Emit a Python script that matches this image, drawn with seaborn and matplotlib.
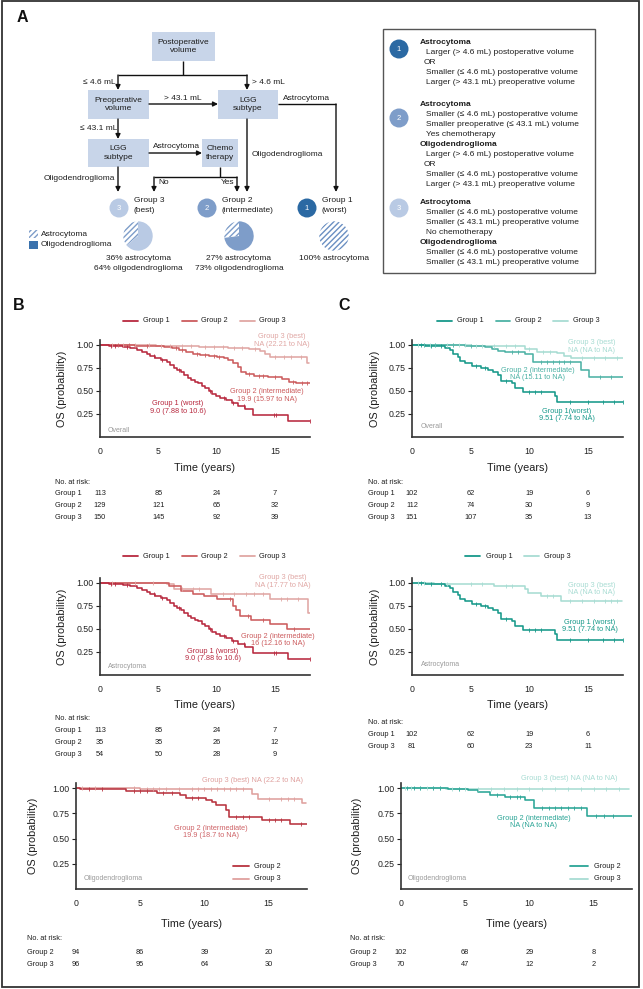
import numpy as np
import pandas as pd
import matplotlib
matplotlib.use("Agg")
import matplotlib.pyplot as plt
import matplotlib.transforms as mtrans
from matplotlib.patches import Rectangle, Circle
import seaborn as sns

# ======================= DATA =======================
# Panel A: composition of prognostic groups
pie_names = ['Group 3', 'Group 2', 'Group 1']
astro_pct = [36, 27, 100]
oligo_pct = [64, 73, 0]

# Kaplan-Meier step points (time in years, survival probability), censor times
# --- B overall ---
B_ov_g1_t = [0, 0.8, 1.5, 2.0, 2.6, 3.2, 3.6, 4.0, 4.3, 4.7, 5.2, 5.7, 6.0, 6.3, 6.6, 6.9, 7.2, 7.5, 7.8, 8.1, 8.4, 8.7, 9.0, 9.3, 9.6, 9.9, 10.3, 10.8, 11.3, 11.8, 12.4, 13.1, 16.1, 18.0]
B_ov_g1_s = [1.0, 0.99, 0.98, 0.97, 0.96, 0.94, 0.92, 0.90, 0.88, 0.85, 0.83, 0.81, 0.78, 0.75, 0.72, 0.70, 0.67, 0.64, 0.62, 0.60, 0.58, 0.55, 0.53, 0.50, 0.47, 0.44, 0.42, 0.40, 0.37, 0.34, 0.30, 0.24, 0.17, 0.17]
B_ov_g1_c = [0.9, 1.3, 2.3, 4.6, 5.3, 6.8, 9.4, 10.6, 11.4, 12.3, 14.9, 15.1, 18.0]
B_ov_g2_t = [0, 1.0, 3.0, 4.5, 5.5, 6.2, 6.8, 7.4, 8.0, 8.6, 9.3, 10.0, 10.6, 11.0, 11.4, 11.8, 12.1, 12.5, 13.2, 14.4, 15.6, 16.2, 16.8, 18.0]
B_ov_g2_s = [1.0, 0.995, 0.99, 0.98, 0.97, 0.96, 0.94, 0.92, 0.90, 0.89, 0.88, 0.87, 0.85, 0.83, 0.80, 0.76, 0.70, 0.68, 0.66, 0.65, 0.63, 0.60, 0.58, 0.58]
B_ov_g2_c = [1.5, 2.5, 4.0, 6.5, 7.0, 8.3, 9.0, 9.8, 10.2, 12.8, 13.6, 14.0, 15.0, 16.5, 17.3, 17.7]
B_ov_g3_t = [0, 1.5, 4.8, 6.5, 8.5, 11.0, 12.8, 13.7, 14.1, 14.6, 17.7, 17.9]
B_ov_g3_s = [1.0, 0.995, 0.99, 0.98, 0.97, 0.96, 0.95, 0.93, 0.90, 0.87, 0.80, 0.80]
B_ov_g3_c = [1.0, 2.0, 3.0, 4.2, 5.2, 6.0, 7.0, 7.8, 9.0, 9.8, 10.5, 11.5, 12.2, 13.3, 15.0, 15.8, 16.4, 17.2]
# --- C overall ---
C_ov_g1_t = [0, 1.1, 2.2, 2.8, 3.2, 3.5, 3.9, 4.1, 4.5, 5.1, 5.9, 6.5, 6.9, 7.3, 7.6, 8.5, 8.8, 9.5, 12.2, 12.4, 18.0]
C_ov_g1_s = [1.0, 0.99, 0.98, 0.96, 0.94, 0.90, 0.87, 0.82, 0.80, 0.77, 0.75, 0.72, 0.70, 0.67, 0.61, 0.58, 0.53, 0.49, 0.44, 0.38, 0.38]
C_ov_g1_c = [0.8, 1.6, 2.5, 5.5, 6.2, 8.0, 10.0, 10.5, 11.0, 13.5, 15.0, 16.3, 17.2, 18.0]
C_ov_g2_t = [0, 3.0, 4.5, 6.2, 6.8, 7.3, 7.9, 9.6, 10.3, 14.4, 15.1, 18.0]
C_ov_g2_s = [1.0, 0.995, 0.99, 0.97, 0.95, 0.93, 0.92, 0.90, 0.81, 0.73, 0.65, 0.65]
C_ov_g2_c = [1.0, 2.0, 3.5, 5.0, 8.5, 9.0, 11.0, 11.5, 12.0, 12.5, 13.0, 13.5, 16.0, 17.0]
C_ov_g3_t = [0, 2.5, 5.0, 7.5, 9.6, 10.7, 12.4, 13.0, 13.6, 18.0]
C_ov_g3_s = [1.0, 0.995, 0.99, 0.98, 0.95, 0.92, 0.91, 0.88, 0.85, 0.85]
C_ov_g3_c = [0.5, 1.0, 1.5, 2.0, 3.0, 3.5, 4.0, 4.5, 5.5, 6.0, 7.0, 8.0, 8.8, 10.0, 11.2, 11.8, 14.5, 15.5, 16.5, 17.5]
# --- B astrocytoma ---
B_as_g2_t = [0, 5.9, 6.9, 8.0, 8.9, 10.0, 11.4, 11.7, 12.0, 12.9, 14.6, 16.0, 18.0]
B_as_g2_s = [1.0, 0.96, 0.91, 0.88, 0.85, 0.82, 0.75, 0.70, 0.64, 0.59, 0.55, 0.50, 0.50]
B_as_g2_c = [11.1, 12.7, 14.0, 16.6]
B_as_g3_t = [0, 5.7, 6.3, 9.5, 14.6, 17.8, 18.0]
B_as_g3_s = [1.0, 0.98, 0.93, 0.88, 0.82, 0.67, 0.67]
B_as_g3_c = [1.0, 3.0, 4.5, 7.0, 8.0, 8.5, 10.5, 11.5, 12.5, 13.2, 14.0, 15.5, 16.0, 17.0]
# --- C astrocytoma ---
C_as_g3_t = [0, 1.9, 3.9, 7.0, 9.6, 9.9, 11.0, 12.7, 17.9]
C_as_g3_s = [1.0, 0.99, 0.98, 0.96, 0.93, 0.89, 0.85, 0.80, 0.80]
C_as_g3_c = [0.5, 1.0, 2.5, 3.0, 5.0, 6.0, 8.0, 8.5, 11.5, 12.0, 13.5, 14.5, 15.5, 16.5, 17.0, 17.5]
# --- B oligodendroglioma ---
B_ol_g2_t = [0, 0.3, 3.9, 6.3, 8.1, 8.6, 10.1, 10.6, 10.9, 11.7, 11.9, 14.5, 16.7, 18.0]
B_ol_g2_s = [1.0, 0.99, 0.97, 0.95, 0.93, 0.90, 0.88, 0.86, 0.83, 0.78, 0.71, 0.68, 0.64, 0.64]
B_ol_g2_c = [1.0, 2.0, 4.5, 5.0, 5.5, 6.8, 7.5, 9.0, 9.5, 12.5, 13.0, 13.5, 15.0, 15.5, 16.0, 17.5]
B_ol_g3_t = [0, 5.0, 13.7, 14.2, 17.6, 17.9]
B_ol_g3_s = [1.0, 0.99, 0.94, 0.89, 0.85, 0.85]
B_ol_g3_c = [0.5, 1.5, 4.5, 5.5, 6.0, 6.5, 7.0, 8.0, 9.0, 9.5, 10.0, 10.5, 11.0, 11.5, 12.0, 12.5, 13.0, 15.0, 16.0, 16.5, 17.0]
# --- C oligodendroglioma ---
C_ol_g2_t = [0, 3.7, 5.2, 6.0, 6.9, 8.1, 9.7, 10.4, 14.5, 18.0]
C_ol_g2_s = [1.0, 0.99, 0.98, 0.96, 0.93, 0.91, 0.88, 0.80, 0.72, 0.72]
C_ol_g2_c = [0.5, 1.0, 1.5, 2.5, 3.0, 4.5, 7.5, 8.5, 9.0, 9.3, 11.0, 11.5, 12.0, 12.5, 13.0, 13.5, 14.0, 15.2, 15.8, 16.5]
C_ol_g3_t = [0, 3.5, 17.8]
C_ol_g3_s = [1.0, 0.99, 0.99]
C_ol_g3_c = [0.3, 0.8, 1.5, 2.0, 2.5, 3.0, 4.0, 4.5, 5.0, 6.0, 7.0, 8.0, 9.0, 10.0, 11.0, 12.0, 13.0, 14.0, 15.0, 16.0, 17.0]

# Number at risk
risk_times = [0, 5, 10, 15]
B_ov_risk = {'Group 1': [113, 85, 24, 7], 'Group 2': [129, 121, 65, 32], 'Group 3': [150, 145, 92, 39]}
C_ov_risk = {'Group 1': [102, 62, 19, 6], 'Group 2': [112, 74, 30, 9], 'Group 3': [151, 107, 35, 13]}
B_as_risk = {'Group 1': [113, 85, 24, 7], 'Group 2': [35, 35, 26, 12], 'Group 3': [54, 50, 28, 9]}
C_as_risk = {'Group 1': [102, 62, 19, 6], 'Group 3': [81, 60, 23, 11]}
B_ol_risk = {'Group 2': [94, 86, 39, 20], 'Group 3': [96, 95, 64, 30]}
C_ol_risk = {'Group 2': [102, 68, 29, 8], 'Group 3': [70, 47, 12, 2]}

# ======================= STYLE =======================
sns.set_style("ticks")
plt.rcParams['font.family'] = ['Liberation Sans', 'DejaVu Sans']
NARROW = ['Liberation Sans Narrow', 'Liberation Sans', 'DejaVu Sans']

RED = {'Group 1': '#b8293f', 'Group 2': '#cc5c5e', 'Group 3': '#e0a7a4'}
RED_OL = {'Group 2': '#b8333f', 'Group 3': '#dfa09e'}
TEAL = {'Group 1': '#17998a', 'Group 2': '#4db2a5', 'Group 3': '#a8dcd3'}
TEAL_OL = {'Group 2': '#2ba596', 'Group 3': '#a8dcd3'}
BLUE1, BLUE2, BLUE3 = '#2b69a3', '#7e9dc9', '#b9cae4'
BOX = '#c8d5e9'
INK = '#1e1e1e'

FA = 6.0     # panel A text
FK = 5.3     # KM annotation text
FR = 5.3     # risk table / legend text

W, H = 643, 989
fig = plt.figure(figsize=(W / 100, H / 100), dpi=100)
bg = fig.add_axes([0, 0, 1, 1])
bg.set_xlim(0, W)
bg.set_ylim(H, 0)
bg.axis('off')


def add_ax(l, t, r, b):
    return fig.add_axes([l / W, 1 - b / H, (r - l) / W, (b - t) / H])


def txt(x, y, s, size=FA, color=INK, ha='left', va='center', weight='normal', **kw):
    bg.text(x, y, s, fontsize=size, color=color, ha=ha, va=va, fontweight=weight, **kw)


# outer frame
bg.add_patch(Rectangle((2, 1), 637, 986, fill=False, lw=1.3, ec='#333333'))

# ======================= PANEL A =======================
txt(17, 18, 'A', size=11.5, weight='bold', color='#111')


def box(x0, y0, x1, y1, s):
    bg.add_patch(Rectangle((x0, y0), x1 - x0, y1 - y0, fc=BOX, ec='none'))
    txt((x0 + x1) / 2, (y0 + y1) / 2, s, ha='center', linespacing=1.3)


def line(xs, ys):
    bg.plot(xs, ys, color='#111', lw=1.0, solid_capstyle='butt')


def arrow(x0, y0, x1, y1):
    bg.annotate('', xy=(x1, y1), xytext=(x0, y0),
                arrowprops=dict(arrowstyle='-|>', color='#111', lw=1.0,
                                mutation_scale=7, shrinkA=0, shrinkB=0))


box(152, 32, 215, 61, 'Postoperative\nvolume')
box(88, 90, 149, 119, 'Preoperative\nvolume')
box(218, 90, 278, 119, 'LGG\nsubtype')
box(88, 139, 149, 167, 'LGG\nsubtype')
box(202, 139, 238, 167, 'Chemo\ntherapy')

line([183, 183], [61, 75])
line([118, 247], [75, 75])
arrow(118, 75, 118, 90)
arrow(247, 75, 247, 90)
txt(116, 83, '≤ 4.6 mL', ha='right')
txt(252, 83, '> 4.6 mL')
arrow(149, 104, 218, 104)
txt(183, 98, '> 43.1 mL', ha='center')
line([278, 336], [104, 104])
arrow(336, 104, 336, 192)
txt(283, 98, 'Astrocytoma')
arrow(247, 119, 247, 192)
txt(252, 155, 'Oligodendroglioma')
arrow(118, 119, 118, 139)
txt(117, 128, '≤ 43.1 mL', ha='right')
arrow(149, 153, 202, 153)
txt(176, 146, 'Astrocytoma', ha='center')
line([220, 220], [167, 177])
line([154, 237], [177, 177])
arrow(154, 177, 154, 192)
arrow(237, 177, 237, 192)
txt(158, 183, 'No')
txt(234, 183, 'Yes', ha='right')
arrow(118, 167, 118, 192)
txt(115, 178, 'Oligodendroglioma', ha='right')

# group circles
for cx, col, num, l1, l2 in [(119, BLUE3, '3', 'Group 3', '(best)'),
                             (207, BLUE2, '2', 'Group 2', '(intermediate)'),
                             (307, BLUE1, '1', 'Group 1', '(worst)')]:
    bg.add_patch(Circle((cx, 208), 9.5, color=col, ec='none'))
    txt(cx, 208.5, num, color='white', ha='center', size=5.5)
    txt(cx + 15, 201, l1)
    txt(cx + 15, 211, l2)

# pie legend
bg.add_patch(Rectangle((29, 230), 9, 8, fc='white', ec=BLUE2, hatch='//////', lw=0))
txt(41, 234, 'Astrocytoma')
bg.add_patch(Rectangle((29, 241), 9, 8, fc='#3a72ad', ec='none'))
txt(41, 245, 'Oligodendroglioma')

pie_cx = [138, 239, 334]
pie_col = [BLUE3, BLUE2, BLUE2]
for i, name in enumerate(pie_names):
    cx = pie_cx[i]
    pax = add_ax(cx - 15, 221, cx + 15, 251)
    wedges, _ = pax.pie([astro_pct[i], oligo_pct[i]], colors=['white', pie_col[i]],
                        startangle=90, counterclock=True, radius=1,
                        wedgeprops=dict(lw=0))
    wedges[0].set_hatch('//////')
    wedges[0].set_edgecolor(BLUE2 if i < 2 else '#6a8fc2')
    pax.set_xlim(-1.02, 1.02)
    pax.set_ylim(-1.02, 1.02)
    pax.set_aspect('equal')
    pax.axis('off')
    txt(cx, 258, f'{astro_pct[i]}% astrocytoma', ha='center')
    if oligo_pct[i] > 0:
        txt(cx, 269, f'{oligo_pct[i]}% oligodendroglioma', ha='center')

# right-hand definition box
bg.add_patch(Rectangle((383, 29), 212, 244, fill=False, ec='#555555', lw=1.0))
for cy, col, num in [(49, BLUE1, '1'), (118, BLUE2, '2'), (208, BLUE3, '3')]:
    bg.add_patch(Circle((399, cy), 9.5, color=col, ec='none'))
    txt(399, cy + 0.5, num, color='white', ha='center', size=5.5)

rb_lines = [
    (43, 'Astrocytoma', 'h'), (53, 'Larger (> 4.6 mL) postoperative volume', 'n'),
    (63, 'OR', 'o'), (73, 'Smaller (≤ 4.6 mL) postoperative volume', 'n'),
    (83, 'Larger (> 43.1 mL) preoperative volume', 'n'),
    (104, 'Astrocytoma', 'h'), (114, 'Smaller (≤ 4.6 mL) postoperative volume', 'n'),
    (124, 'Smaller preoperative (≤ 43.1 mL) volume', 'n'), (134, 'Yes chemotherapy', 'n'),
    (144, 'Oligodendroglioma', 'h'), (154, 'Larger (> 4.6 mL) postoperative volume', 'n'),
    (164, 'OR', 'o'), (174, 'Smaller (≤ 4.6 mL) postoperative volume', 'n'),
    (184, 'Larger (> 43.1 mL) preoperative volume', 'n'),
    (203, 'Astrocytoma', 'h'), (213, 'Smaller (≤ 4.6 mL) postoperative volume', 'n'),
    (223, 'Smaller (≤ 43.1 mL) preoperative volume', 'n'), (233, 'No chemotherapy', 'n'),
    (243, 'Oligodendroglioma', 'h'), (253, 'Smaller (≤ 4.6 mL) postoperative volume', 'n'),
    (263, 'Smaller (≤ 43.1 mL) preoperative volume', 'n'),
]
for y, s, kind in rb_lines:
    if kind == 'h':
        txt(420, y, s, weight='bold')
    elif kind == 'o':
        txt(424, y, s)
    else:
        txt(426, y, s)


# ======================= KM PANELS =======================
def step_value(t_arr, s_arr, t):
    i = np.searchsorted(np.asarray(t_arr), t, side='right') - 1
    return s_arr[max(i, 0)]


def draw_km(ax, curves, colors):
    frames = []
    for g, (t, s, c) in curves.items():
        frames.append(pd.DataFrame({'time': t, 'surv': s, 'group': g}))
    df = pd.concat(frames, ignore_index=True)
    order = [g for g in ['Group 3', 'Group 2', 'Group 1'] if g in curves]
    sns.lineplot(data=df, x='time', y='surv', hue='group', hue_order=order,
                 palette=colors, estimator=None, sort=False, drawstyle='steps-post',
                 linewidth=1.15, legend=False, ax=ax)
    for g in order:
        t, s, c = curves[g]
        cy = [step_value(t, s, x) for x in c]
        sns.scatterplot(x=c, y=cy, marker='|', s=9, color=colors[g], linewidth=0.6,
                        ax=ax, legend=False, zorder=3)
    ax.set_xlim(0, 18)
    ax.set_ylim(0, 1.05)
    ax.set_xticks([0, 5, 10, 15])
    ax.set_yticks([0.25, 0.5, 0.75, 1.0])
    ax.set_yticklabels(['0.25', '0.50', '0.75', '1.00'])
    ax.set_xlabel('')
    ax.set_ylabel('')
    for sp in ['top', 'right']:
        ax.spines[sp].set_visible(False)
    for sp in ['left', 'bottom']:
        ax.spines[sp].set_linewidth(1.2)
        ax.spines[sp].set_color('#333333')
    ax.tick_params(axis='y', length=3, width=0.8, pad=1.5, labelsize=6.3, colors='#222')
    ax.tick_params(axis='x', length=0, pad=7, labelsize=6.3, colors='#222')
    ax.set_facecolor('none')


def risk_table(ax, table, xlab, y0, dy):
    tr = mtrans.blended_transform_factory(ax.transData, bg.transData)
    txt(xlab, y0, 'No. at risk:', size=FR)
    for k, (g, vals) in enumerate(table.items()):
        y = y0 + dy * (k + 1)
        txt(xlab, y, g, size=FR)
        for tt, v in zip(risk_times, vals):
            ax.text(tt, y, str(v), transform=tr, fontsize=FR, color=INK, ha='center', va='center')


def labels(l, t, r, b, ylab_x, xlab_y):
    bg.text(ylab_x, (t + b) / 2, 'OS (probability)', rotation=90, fontsize=7.8,
            family=NARROW, ha='center', va='center', color=INK)
    bg.text((l + r) / 2, xlab_y, 'Time (years)', fontsize=7.8, family=NARROW,
            ha='center', va='center', color=INK)


def top_legend(items, y):
    for x0, x1, xt, col, lab in items:
        bg.plot([x0, x1], [y, y], color=col, lw=1.3)
        txt(xt, y, lab, size=FR)


# ---- B overall ----
axB1 = add_ax(100, 340, 310, 437)
draw_km(axB1, {'Group 1': (B_ov_g1_t, B_ov_g1_s, B_ov_g1_c),
               'Group 2': (B_ov_g2_t, B_ov_g2_s, B_ov_g2_c),
               'Group 3': (B_ov_g3_t, B_ov_g3_s, B_ov_g3_c)}, RED)
labels(100, 340, 310, 437, 62, 468)
txt(13, 306, 'B', size=11.5, weight='bold', color='#111')
top_legend([(123, 138, 143, RED['Group 1'], 'Group 1'), (182, 197, 201, RED['Group 2'], 'Group 2'),
            (240, 255, 259, RED['Group 3'], 'Group 3')], 321)
txt(282, 340.5, 'Group 3 (best)\nNA (22.21 to NA)', size=FK, color=RED['Group 3'], ha='center', linespacing=1.1)
txt(267, 395.5, 'Group 2 (intermediate)\n19.9 (15.97 to NA)', size=FK, color=RED['Group 2'], ha='center', linespacing=1.1)
txt(178, 407.5, 'Group 1 (worst)\n9.0 (7.88 to 10.6)', size=FK, color=RED['Group 1'], ha='center', linespacing=1.1)
txt(108, 430, 'Overall', size=5, color='#9a9a9a')
risk_table(axB1, B_ov_risk, 55, 482, 11.7)

# ---- C overall ----
axC1 = add_ax(412, 340, 623, 437)
draw_km(axC1, {'Group 1': (C_ov_g1_t, C_ov_g1_s, C_ov_g1_c),
               'Group 2': (C_ov_g2_t, C_ov_g2_s, C_ov_g2_c),
               'Group 3': (C_ov_g3_t, C_ov_g3_s, C_ov_g3_c)}, TEAL)
labels(412, 340, 623, 437, 375, 468)
txt(338, 306, 'C', size=11.5, weight='bold', color='#111')
top_legend([(437, 452, 457, TEAL['Group 1'], 'Group 1'), (496, 510, 515, TEAL['Group 2'], 'Group 2'),
            (553, 568, 573, TEAL['Group 3'], 'Group 3')], 321)
txt(592, 346.5, 'Group 3 (best)\nNA (NA to NA)', size=FK, color=TEAL['Group 3'], ha='center', linespacing=1.1)
txt(538, 374, 'Group 2 (intermediate)\nNA (15.11 to NA)', size=FK, color=TEAL['Group 2'], ha='center', linespacing=1.1)
txt(567, 415, 'Group 1(worst)\n9.51 (7.74 to NA)', size=FK, color=TEAL['Group 1'], ha='center', linespacing=1.1)
txt(421, 427, 'Overall', size=5, color='#9a9a9a')
risk_table(axC1, C_ov_risk, 368, 482, 11.7)

# ---- B astrocytoma ----
axB2 = add_ax(100, 578, 310, 675)
draw_km(axB2, {'Group 1': (B_ov_g1_t, B_ov_g1_s, B_ov_g1_c),
               'Group 2': (B_as_g2_t, B_as_g2_s, B_as_g2_c),
               'Group 3': (B_as_g3_t, B_as_g3_s, B_as_g3_c)}, RED)
labels(100, 578, 310, 675, 62, 705)
top_legend([(123, 138, 143, RED['Group 1'], 'Group 1'), (182, 197, 201, RED['Group 2'], 'Group 2'),
            (240, 255, 259, RED['Group 3'], 'Group 3')], 556)
txt(283, 581.5, 'Group 3 (best)\nNA (17.77 to NA)', size=FK, color=RED['Group 3'], ha='center', linespacing=1.1)
txt(278, 640, 'Group 2 (intermediate)\n16 (12.16 to NA)', size=FK, color=RED['Group 2'], ha='center', linespacing=1.1)
txt(213, 655, 'Group 1 (worst)\n9.0 (7.88 to 10.6)', size=FK, color=RED['Group 1'], ha='center', linespacing=1.1)
txt(108, 666, 'Astrocytoma', size=5, color='#9a9a9a')
risk_table(axB2, B_as_risk, 55, 719, 11.7)

# ---- C astrocytoma ----
axC2 = add_ax(412, 578, 623, 675)
draw_km(axC2, {'Group 1': (C_ov_g1_t, C_ov_g1_s, C_ov_g1_c),
               'Group 3': (C_as_g3_t, C_as_g3_s, C_as_g3_c)}, TEAL)
labels(412, 578, 623, 675, 375, 705)
top_legend([(465, 480, 486, TEAL['Group 1'], 'Group 1'), (524, 539, 544, TEAL['Group 3'], 'Group 3')], 556)
txt(592, 589, 'Group 3 (best)\nNA (NA to NA)', size=FK, color=TEAL['Group 3'], ha='center', linespacing=1.1)
txt(590, 626, 'Group 1 (worst)\n9.51 (7.74 to NA)', size=FK, color=TEAL['Group 1'], ha='center', linespacing=1.1)
txt(421, 665, 'Astrocytoma', size=5, color='#9a9a9a')
risk_table(axC2, C_as_risk, 368, 723, 11.7)

# ---- B oligodendroglioma ----
axB3 = add_ax(76, 783, 307, 889)
draw_km(axB3, {'Group 2': (B_ol_g2_t, B_ol_g2_s, B_ol_g2_c),
               'Group 3': (B_ol_g3_t, B_ol_g3_s, B_ol_g3_c)}, RED_OL)
labels(76, 783, 307, 889, 33, 924)
txt(252, 781, 'Group 3 (best) NA (22.2 to NA)', size=FK, color=RED_OL['Group 3'], ha='center')
txt(211, 832, 'Group 2 (intermediate)\n19.9 (18.7 to NA)', size=FK, color='#cf6468', ha='center', linespacing=1.1)
txt(84, 879, 'Oligodendroglioma', size=5, color='#9a9a9a')
bg.plot([233, 249], [866, 866], color=RED_OL['Group 2'], lw=1.3)
txt(254, 866, 'Group 2', size=FR)
bg.plot([233, 249], [879, 879], color=RED_OL['Group 3'], lw=1.3)
txt(254, 879, 'Group 3', size=FR)
risk_table(axB3, B_ol_risk, 27, 939, 13)

# ---- C oligodendroglioma ----
axC3 = add_ax(401, 783, 632, 889)
draw_km(axC3, {'Group 2': (C_ol_g2_t, C_ol_g2_s, C_ol_g2_c),
               'Group 3': (C_ol_g3_t, C_ol_g3_s, C_ol_g3_c)}, TEAL_OL)
labels(401, 783, 632, 889, 357, 924)
txt(569, 779, 'Group 3 (best) NA (NA to NA)', size=FK, color=TEAL_OL['Group 3'], ha='center')
txt(534, 822, 'Group 2 (intermediate)\nNA (NA to NA)', size=FK, color=TEAL_OL['Group 2'], ha='center', linespacing=1.1)
txt(408, 879, 'Oligodendroglioma', size=5, color='#9a9a9a')
bg.plot([570, 588], [866, 866], color=TEAL_OL['Group 2'], lw=1.3)
txt(594, 866, 'Group 2', size=FR)
bg.plot([570, 588], [879, 879], color=TEAL_OL['Group 3'], lw=1.3)
txt(594, 879, 'Group 3', size=FR)
risk_table(axC3, C_ol_risk, 350, 939, 13)

fig.savefig('out.png', dpi=100)
